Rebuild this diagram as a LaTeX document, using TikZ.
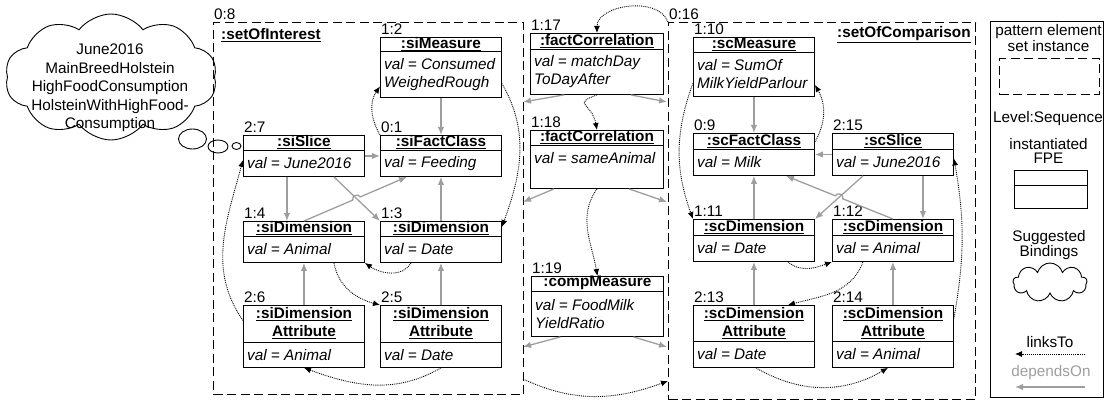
\documentclass[tikz,border=0pt]{standalone}
\usepackage{fontspec}
\setmainfont{Liberation Sans}
\usepackage{tikz}
\usetikzlibrary{arrows.meta}
\usetikzlibrary{calc}
\usetikzlibrary{shapes.symbols}

\definecolor{depgray}{gray}{0.62}
\newcommand{\basefont}{\fontsize{15.3}{18}\selectfont}

\tikzset{
  fpebox/.style={draw, line width=0.9pt, minimum width=121pt, inner sep=0pt, anchor=north west},
  fpehead/.style={font=\basefont\bfseries, align=center, inner sep=0pt},
  fpebody/.style={font=\basefont\itshape, align=left, inner sep=0pt, anchor=west},
  seqlabel/.style={anchor=south west, inner sep=0pt, xshift=1pt, yshift=2.5pt},
  setframe/.style={draw, line width=1.2pt, dash pattern=on 9pt off 4.5pt, inner sep=0pt, anchor=north west},
  linksto/.style={densely dotted, line width=0.9pt, -{Latex[length=7pt,width=6pt]}},
  dependson/.style={draw=depgray, line width=1.3pt, -{Latex[length=8pt,width=6.5pt]}},
}

% #1 box options, #2 name, #3 top left, #4 header height, #5 box height,
% #6 header, #7 body, #8 level:sequence
\newcommand{\fpe}[8][]{%
  \node[fpebox, minimum height=#5pt, #1] (#2) at (#3) {};
  \draw[line width=0.9pt] ([yshift=-#4pt]#2.north west) -- ([yshift=-#4pt]#2.north east);
  \node[fpehead] (#2-head) at ($(#2.north)!0.5!([yshift=-#4pt]#2.north)$) {#6};
  \node[fpebody] (#2-body) at ($([yshift=-#4pt,xshift=4pt]#2.north west)!0.5!([xshift=4pt]#2.south west)$) {#7};
  \node[seqlabel] (#2-seq) at (#2.north west) {#8};
}

\begin{document}
\begin{tikzpicture}[x=1pt, y=1pt, font=\basefont]
\useasboundingbox (0,0) rectangle (1105,-401);

% pattern element sets
\node[setframe, minimum width=310pt, minimum height=372pt] (soi) at (213,-22) {};
\node[setframe, minimum width=307pt, minimum height=377pt] (soc) at (668,-22) {};
\node[seqlabel] (soi-seq) at (soi.north west) {0:8};
\node[seqlabel] (soc-seq) at (soc.north west) {0:16};
\node[anchor=west, inner sep=0pt, font=\basefont\bfseries] (soi-title) at (221,-35) {\underline{:setOfInterest}};
\node[anchor=west, inner sep=0pt, font=\basefont\bfseries] (soc-title) at (837,-35) {\underline{:setOfComparison}};

% suggested bindings
\node[cloud, draw, line width=0.9pt, cloud puffs=10, cloud puff arc=105, cloud ignores aspect,
  minimum width=212pt, minimum height=126pt, inner sep=0pt] (bindings) at (111,-77) {};
\node[align=center, inner sep=0pt, font=\fontsize{15.3}{18.5}\selectfont] (bindings-text) at (110,-88)
  {June2016\\MainBreedHolstein\\HighFoodConsumption\\HolsteinWithHighFood-\\Consumption};
\draw[line width=0.9pt] (192.5,-139) ellipse [x radius=14, y radius=10];
\draw[line width=0.9pt] (218,-146.5) ellipse [x radius=10, y radius=6.5];
\draw[line width=0.9pt] (236.5,-146) ellipse [x radius=4.5, y radius=3.5];

% set of interest
\fpe{siMeasure}{380,-37}{14}{60}{\underline{:siMeasure}}{val = Consumed\\WeighedRough}{1:2}
\fpe{siFact}{380,-135}{15}{41}{\underline{:siFactClass}}{val = Feeding}{0:1}
\fpe{siSlice}{243,-135}{15}{41}{\underline{:siSlice}}{val = June2016}{2:7}
\fpe{siDimA}{243,-221}{15}{41}{\underline{:siDimension}}{val = Animal}{1:4}
\fpe{siDimD}{380,-221}{15}{41}{\underline{:siDimension}}{val = Date}{1:3}
\fpe{siAttA}{243,-305}{37}{62}{\underline{:siDimension}\\\underline{Attribute}}{val = Animal}{2:6}
\fpe{siAttD}{380,-305}{37}{62}{\underline{:siDimension}\\\underline{Attribute}}{val = Date}{2:5}

% correlations
\fpe[minimum width=133pt]{factCorrA}{530,-33}{16}{61}{\underline{:factCorrelation}}{val = matchDay\\ToDayAfter}{1:17}
\fpe[minimum width=133pt]{factCorrB}{530,-130}{15}{58}{\underline{:factCorrelation}}{val = sameAnimal\\\mbox{}}{1:18}
\fpe[minimum width=132pt]{compMeasure}{531,-276}{15}{60}{\underline{:compMeasure}}{val = FoodMilk\\YieldRatio}{1:19}

% set of comparison
\fpe{scMeasure}{693,-37}{15}{59}{\underline{:scMeasure}}{val = SumOf\\MilkYieldParlour}{1:10}
\fpe{scFact}{693,-133}{16}{42}{\underline{:scFactClass}}{val = Milk}{0:9}
\fpe{scSlice}{832,-133}{16}{42}{\underline{:scSlice}}{val = June2016}{2:15}
\fpe{scDimD}{693,-219}{16}{42}{\underline{:scDimension}}{val = Date}{1:11}
\fpe{scDimA}{832,-219}{16}{42}{\underline{:scDimension}}{val = Animal}{1:12}
\fpe{scAttD}{693,-305}{36}{62}{\underline{:scDimension}\\\underline{Attribute}}{val = Date}{2:13}
\fpe{scAttA}{832,-305}{36}{62}{\underline{:scDimension}\\\underline{Attribute}}{val = Animal}{2:14}

% dependsOn, set of interest
\draw[dependson] (siMeasure.south) -- (siFact.north);
\draw[dependson] (siSlice.east) -- (siFact.west);
\draw[dependson] ([xshift=-17pt]siSlice.south) -- ([xshift=-17pt]siDimA.north);
\coordinate (hopA1) at (siDimA.north);
\coordinate (hopA2) at ([xshift=-34pt]siFact.south);
\coordinate (hopB1) at ([xshift=30pt]siSlice.south);
\coordinate (hopB2) at (siDimD.north west);
\coordinate (hopX) at (intersection of hopA1--hopA2 and hopB1--hopB2);
\draw[dependson] (hopB1) -- (hopB2);
\draw[dependson] (hopA1) -- ($(hopX)!4pt!(hopA1)$) to[bend left=90, looseness=1.4] ($(hopX)!4pt!(hopA2)$) -- (hopA2);
\draw[dependson] (siDimD.north) -- (siFact.south);
\draw[dependson] (siAttA.north) -- (siDimA.south);
\draw[dependson] (siAttD.north) -- (siDimD.south);

% dependsOn, set of comparison
\draw[dependson] (scMeasure.south) -- (scFact.north);
\draw[dependson] (scSlice.west) -- (scFact.east);
\draw[dependson] ([xshift=30pt]scSlice.south) -- ([xshift=30pt]scDimA.north);
\coordinate (hopC1) at (scDimA.north);
\coordinate (hopC2) at ([xshift=32pt]scFact.south);
\coordinate (hopD1) at ([xshift=-30pt]scSlice.south);
\coordinate (hopD2) at (scDimD.north east);
\coordinate (hopY) at (intersection of hopC1--hopC2 and hopD1--hopD2);
\draw[dependson] (hopD1) -- (hopD2);
\draw[dependson] (hopC1) -- ($(hopY)!4pt!(hopC1)$) to[bend right=90, looseness=1.4] ($(hopY)!4pt!(hopC2)$) -- (hopC2);
\draw[dependson] (scDimD.north) -- (scFact.south);
\draw[dependson] (scAttD.north) -- (scDimD.south);
\draw[dependson] (scAttA.north) -- (scDimA.south);

% dependsOn, correlations
\coordinate (soi-a) at (523,-102);
\coordinate (soc-a) at (667,-102);
\coordinate (soi-b) at (523,-202);
\coordinate (soc-b) at (667,-202);
\coordinate (soi-c) at (523,-347);
\coordinate (soc-c) at (667,-347);
\draw[dependson] ([xshift=-33pt]factCorrA.south) -- (soi-a);
\draw[dependson] ([xshift=34pt]factCorrA.south) -- (soc-a);
\draw[dependson] ([xshift=-43pt]factCorrB.south) -- (soi-b);
\draw[dependson] ([xshift=32pt]factCorrB.south) -- (soc-b);
\draw[dependson] ([xshift=-37pt]compMeasure.south) -- (soi-c);
\draw[dependson] ([xshift=36pt]compMeasure.south) -- (soc-c);

% linksTo
\draw[linksto] (siFact.north west) to[out=120, in=235] ([yshift=-19pt]siMeasure.west);
\draw[linksto] ([yshift=-16pt]siMeasure.east) to[out=-60, in=70] ([yshift=-6pt]siDimD.north east);
\draw[linksto] ([xshift=-30pt]siDimD.south) to[out=-120, in=-35] (siDimA.south east);
\draw[linksto] ([xshift=30pt]siDimA.south) to[out=-80, in=165] (siAttD.north west);
\draw[linksto] (siAttD.south) to[out=-150, in=-20] (siAttA.south);
\draw[linksto] ([yshift=16pt]siAttA.west) to[out=125, in=255] ([yshift=-4pt]siSlice.west);

\draw[linksto] (soc.north west) to[out=110, in=90] (factCorrA.north);
\draw[linksto] (factCorrA.south) to[out=-160, in=100, looseness=2] (factCorrB.north);
\draw[linksto] (factCorrB.south) to[out=-125, in=100] (compMeasure.north);
\coordinate (soi-d) at (523,-379);
\coordinate (soc-d) at (668,-381);
\draw[linksto] (soi-d) to[out=-25, in=200] (soc-d);

\draw[linksto] ([yshift=-9pt]scFact.north east) to[out=60, in=-60] ([yshift=-18pt]scMeasure.east);
\draw[linksto] ([yshift=-16pt]scMeasure.west) to[out=-110, in=110] (scDimD.north west);
\draw[linksto] ([xshift=34pt]scDimD.south) to[out=-40, in=200] (scDimA.south west);
\draw[linksto] ([xshift=-30pt]scDimA.south) to[out=-110, in=15] ([xshift=34pt]scAttD.north);
\draw[linksto] ([xshift=2pt]scAttD.south) to[out=-30, in=-150] ([xshift=-5pt]scAttA.south);
\draw[linksto] ([yshift=18pt]scAttA.east) to[out=80, in=-80] ([yshift=-4pt]scSlice.east);

% legend
\node[draw, line width=0.9pt, minimum width=113pt, minimum height=376pt, anchor=north west, inner sep=0pt] (legend) at (990,-21) {};
\node[align=center, inner sep=0pt, font=\fontsize{15.3}{14}\selectfont] (lg-settext) at (1048.5,-38) {pattern element\\set instance};
\node[setframe, minimum width=100pt, minimum height=36pt] (lg-set) at (999,-58) {};
\node[inner sep=0pt] (lg-seq) at (1048,-119) {Level:Sequence};
\node[align=center, inner sep=0pt, font=\fontsize{15.3}{14}\selectfont] (lg-fpetext) at (1048.5,-151) {instantiated\\FPE};
\node[draw, line width=0.9pt, minimum width=73pt, minimum height=38pt, anchor=north west, inner sep=0pt] (lg-fpe) at (1014,-170) {};
\draw[line width=0.9pt] ([yshift=4pt]lg-fpe.west) -- ([yshift=4pt]lg-fpe.east);
\node[align=center, inner sep=0pt, font=\fontsize{15.3}{14}\selectfont] (lg-cloudtext) at (1049,-245) {Suggested\\Bindings};
\node[cloud, draw, line width=0.9pt, cloud puffs=9, cloud ignores aspect,
  minimum width=74pt, minimum height=39pt, inner sep=0pt] (lg-cloud) at (1050,-282.5) {};
\node[inner sep=0pt] (lg-links) at (1050,-342) {linksTo};
\coordinate (lg-l1) at (1085,-354);
\coordinate (lg-l2) at (1015,-354);
\draw[linksto] (lg-l1) -- (lg-l2);
\node[inner sep=0pt, text=depgray] (lg-deps) at (1051,-373) {dependsOn};
\coordinate (lg-d1) at (1085,-387);
\coordinate (lg-d2) at (1015,-387);
\draw[dependson] (lg-d1) -- (lg-d2);
\end{tikzpicture}
\end{document}
